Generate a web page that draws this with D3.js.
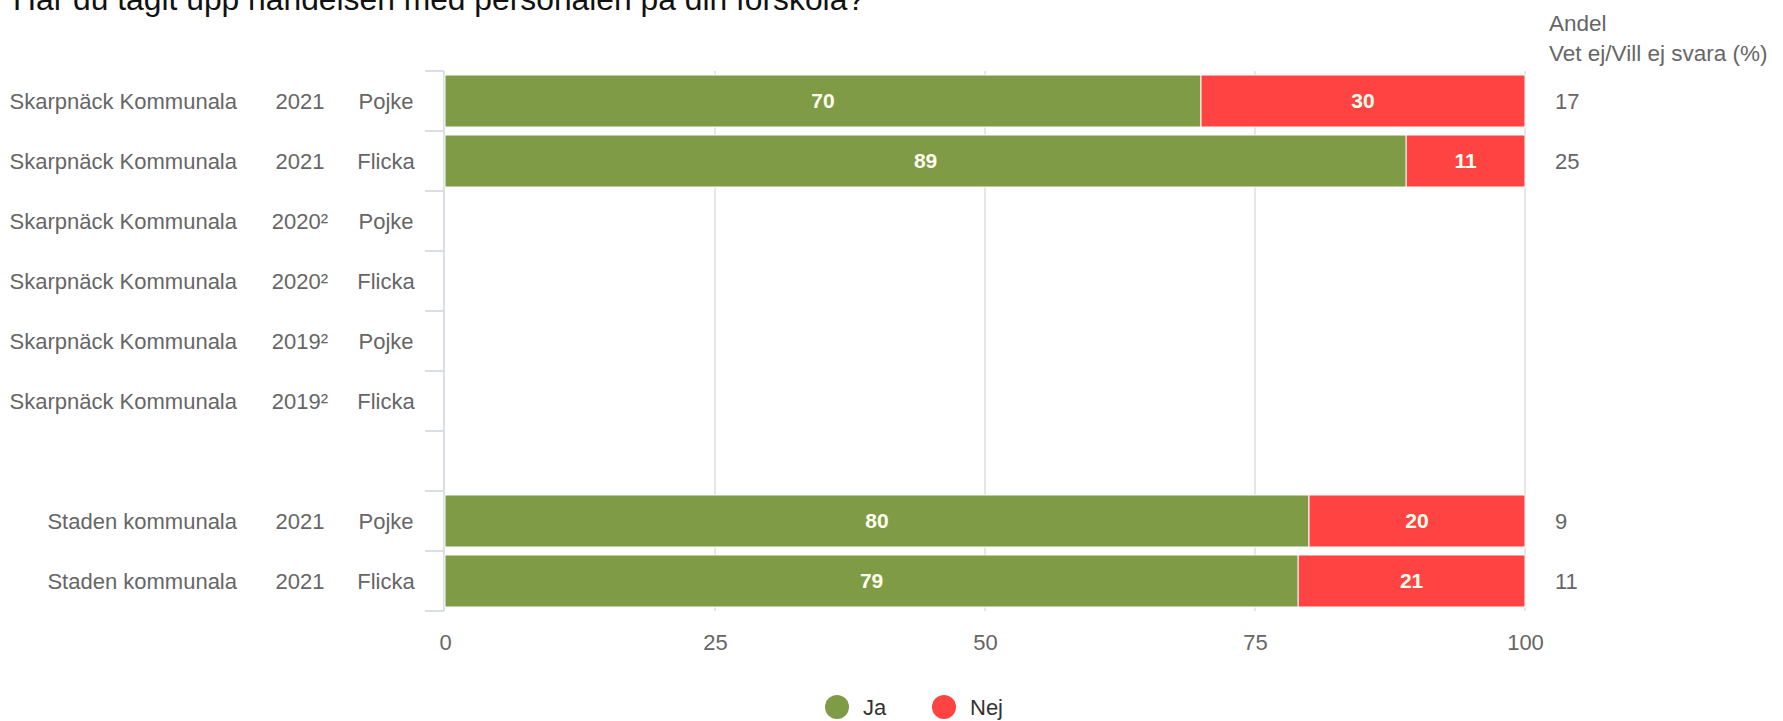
<!DOCTYPE html>
<html>
<head>
<meta charset="utf-8">
<script src="https://cdn.jsdelivr.net/npm/d3@7"></script>
<style>
  html, body { margin: 0; padding: 0; background: #fff; }
  svg { display: block; font-family: "Liberation Sans", Arial, Helvetica, sans-serif; }
</style>
</head>
<body>
<svg id="chart" width="1783" height="721"></svg>
<script>
const title = "Har du tagit upp händelsen med personalen på din förskola?";
const names = ["Skarpnäck Kommunala", "Skarpnäck Kommunala", "Skarpnäck Kommunala", "Skarpnäck Kommunala", "Skarpnäck Kommunala", "Skarpnäck Kommunala", "", "Staden kommunala", "Staden kommunala"];
const years = ["2021", "2021", "2020²", "2020²", "2019²", "2019²", "", "2021", "2021"];
const genders = ["Pojke", "Flicka", "Pojke", "Flicka", "Pojke", "Flicka", "", "Pojke", "Flicka"];
const jaValues = [70, 89, null, null, null, null, null, 80, 79];
const nejValues = [30, 11, null, null, null, null, null, 20, 21];
const vetEjValues = [17, 25, null, null, null, null, null, 9, 11];
const seriesNames = ["Ja", "Nej"];
const seriesColors = ["#7f9b45", "#ff4343"];
const xTicks = [0, 25, 50, 75, 100];
const rightHeader = ["Andel", "Vet ej/Vill ej svara (%)"];

const svg = d3.select("#chart");
const FONT = 22;

const x = d3.scaleLinear().domain([0, 100]).range([445, 1525]);
const rows = d3.range(names.length);
const y = d3.scaleBand().domain(rows).range([71, 611]).paddingInner(0.133).paddingOuter(0.0667);
const step = y.step();

// title
svg.append("text").attr("x", 13).attr("y", 10).attr("font-size", 31.8).attr("fill", "#111").text(title);

// gridlines
const grid = svg.append("g");
grid.selectAll("line").data(xTicks.filter(t => t > 0)).enter().append("line")
  .attr("x1", d => x(d)).attr("x2", d => x(d))
  .attr("y1", 71).attr("y2", 611)
  .attr("stroke", "#e6e6e6").attr("stroke-width", 2);

// left axis line + ticks at band boundaries
svg.append("line").attr("x1", 444).attr("x2", 444).attr("y1", 71).attr("y2", 611)
  .attr("stroke", "#dadde3").attr("stroke-width", 2);
svg.append("g").selectAll("line").data(d3.range(names.length + 1)).enter().append("line")
  .attr("x1", 425).attr("x2", 444)
  .attr("y1", i => 71 + i * step).attr("y2", i => 71 + i * step)
  .attr("stroke", "#dadde3").attr("stroke-width", 2);

// bars
const stackData = rows.map(i => ({ i, ja: jaValues[i], nej: nejValues[i] }));
const bars = svg.append("g");
stackData.forEach(d => {
  if (d.ja == null) return;
  const segs = [
    { s: 0, v0: 0, v1: d.ja, val: d.ja },
    { s: 1, v0: d.ja, v1: d.ja + d.nej, val: d.nej }
  ];
  segs.forEach(seg => {
    bars.append("rect")
      .attr("x", x(seg.v0)).attr("width", x(seg.v1) - x(seg.v0))
      .attr("y", y(d.i)).attr("height", y.bandwidth())
      .attr("fill", seriesColors[seg.s])
      .attr("stroke", "#ffffff").attr("stroke-width", 1);
    bars.append("text")
      .attr("x", (x(seg.v0) + x(seg.v1)) / 2)
      .attr("y", y(d.i) + y.bandwidth() / 2)
      .attr("dy", "0.35em")
      .attr("text-anchor", "middle")
      .attr("font-size", 21).attr("font-weight", "bold")
      .attr("fill", "#fffff0")
      .text(seg.val);
  });
});

// category labels
const labels = svg.append("g").attr("font-size", FONT).attr("fill", "#666");
rows.forEach(i => {
  const cy = y(i) + y.bandwidth() / 2;
  labels.append("text").attr("x", 237).attr("y", cy).attr("dy", "0.35em").attr("text-anchor", "end").text(names[i]);
  labels.append("text").attr("x", 300).attr("y", cy).attr("dy", "0.35em").attr("text-anchor", "middle").text(years[i]);
  labels.append("text").attr("x", 386).attr("y", cy).attr("dy", "0.35em").attr("text-anchor", "middle").text(genders[i]);
  if (vetEjValues[i] != null) {
    labels.append("text").attr("x", 1555).attr("y", cy).attr("dy", "0.35em").text(vetEjValues[i]);
  }
});

// right header
const hdr = svg.append("g").attr("font-size", 22.5).attr("fill", "#666");
rightHeader.forEach((t, k) => {
  hdr.append("text").attr("x", 1549).attr("y", 31 + k * 30).text(t);
});

// x axis labels
const xAxis = svg.append("g").attr("transform", "translate(0,642)")
  .call(d3.axisBottom(x).tickValues(xTicks).tickSize(0).tickPadding(0));
xAxis.select(".domain").remove();
xAxis.selectAll("text").attr("font-size", FONT).attr("fill", "#666")
  .attr("font-family", "Liberation Sans, Arial, sans-serif").attr("dy", "0.35em");

// legend
const legendX = [837, 944];
const leg = svg.append("g");
seriesNames.forEach((n, k) => {
  leg.append("circle").attr("cx", legendX[k]).attr("cy", 707).attr("r", 12).attr("fill", seriesColors[k]);
  leg.append("text").attr("x", legendX[k] + 26).attr("y", 707).attr("dy", "0.35em")
    .attr("font-size", FONT).attr("fill", "#333").text(n);
});
</script>
</body>
</html>
